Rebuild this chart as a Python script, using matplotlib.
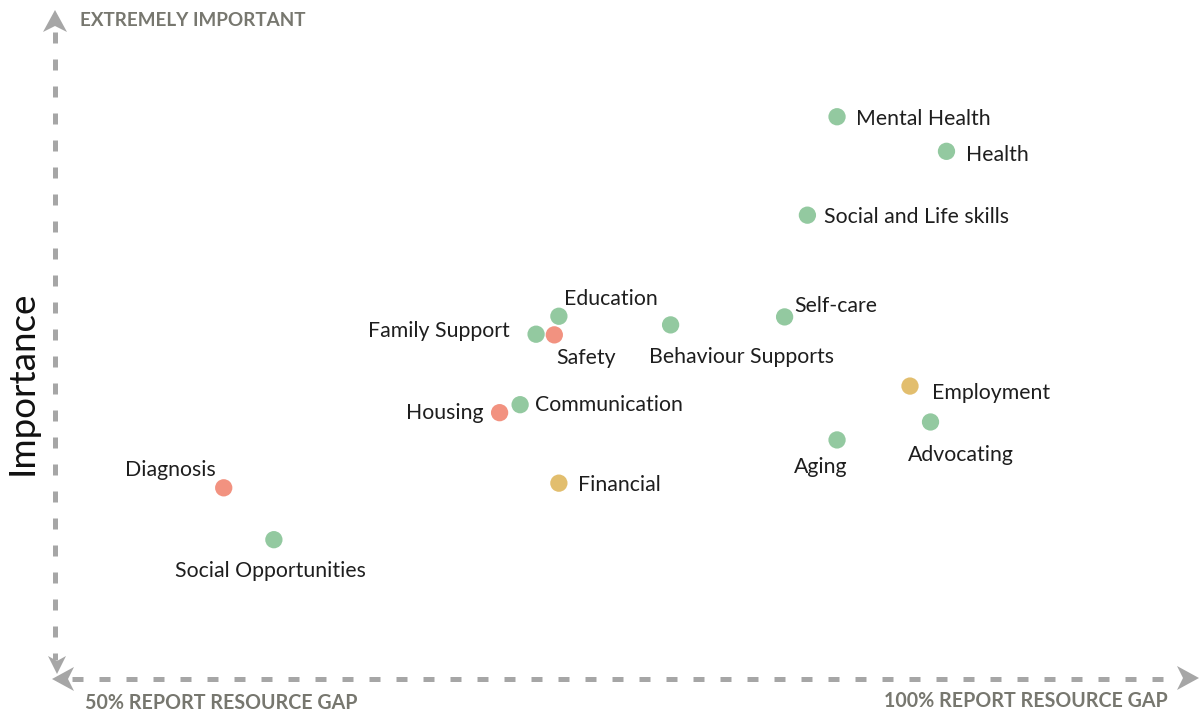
import matplotlib
matplotlib.use("Agg")
import matplotlib.pyplot as plt
from matplotlib.patches import Polygon
from matplotlib.lines import Line2D

# ---- data ----
labels = ["Mental Health", "Health", "Social and Life skills", "Education",
          "Family Support", "Safety", "Behaviour Supports", "Self-care",
          "Employment", "Advocating", "Aging", "Communication", "Housing",
          "Financial", "Diagnosis", "Social Opportunities"]
resource_gap = [84.3, 89.1, 83.0, 72.1, 71.1, 71.9, 77.0, 82.0,
                87.5, 88.4, 84.3, 70.4, 69.5, 72.1, 57.4, 59.6]
importance = [8.47, 7.95, 6.99, 5.47, 5.20, 5.19, 5.34, 5.46,
              4.42, 3.88, 3.61, 4.14, 4.02, 2.96, 2.89, 2.11]
groups = ["g", "g", "g", "g", "g", "r", "g", "g",
          "y", "g", "g", "g", "r", "y", "r", "g"]

group_colors = {"g": "#93C9A0", "r": "#F29280", "y": "#E2BE6E"}

# label placement (offset in pixels, horizontal alignment)
label_pos = {
    "Mental Health": (19, -2, "left"),
    "Health": (20, -4, "left"),
    "Social and Life skills": (17, -2, "left"),
    "Education": (5, 17, "left"),
    "Family Support": (-26, 3, "right"),
    "Safety": (2, -23, "left"),
    "Behaviour Supports": (-22, -32, "left"),
    "Self-care": (10, 11, "left"),
    "Employment": (22, -7, "left"),
    "Advocating": (30, -33, "center"),
    "Aging": (-16, -27, "center"),
    "Communication": (15, 0, "left"),
    "Housing": (-16, 0, "right"),
    "Financial": (19, -2, "left"),
    "Diagnosis": (-53, 18, "center"),
    "Social Opportunities": (-3, -31, "center"),
}

W, H = 1204, 713
fig = plt.figure(figsize=(W / 100, H / 100), dpi=100)
fig.patch.set_facecolor("white")

# axes: x 50 -> px 55, 100 -> px 1195 ; y 0 -> py 680, 10 -> py 15
x0, x1 = 55, 1195
y0, y1 = 680, 15
ax = fig.add_axes([x0 / W, (H - y0) / H, (x1 - x0) / W, (y0 - y1) / H])
ax.set_xlim(50, 100)
ax.set_ylim(0, 10)
ax.axis("off")

ax.scatter(resource_gap, importance, s=155,
           c=[group_colors[g] for g in groups], linewidths=0, zorder=3,
           clip_on=False)

label_font = ["Lato", "DejaVu Sans"]
for lab, xv, yv in zip(labels, resource_gap, importance):
    dx, dy, ha = label_pos[lab]
    ax.annotate(lab, (xv, yv), xytext=(dx, dy), textcoords="offset pixels",
                ha=ha, va="center", fontsize=15.3, color="#1e1e1e",
                family=label_font)

# ---- axis arrows (decorations, in figure pixel coords) ----
def fpt(px, py):
    return (px / W, (H - py) / H)

axis_col = "#A6A6A6"
dash = (2.2, 3.2)
lw = 3.6
# vertical
fig.add_artist(Line2D([55 / W, 55 / W], [(H - 32) / H, (H - 660) / H],
                      transform=fig.transFigure, color=axis_col, lw=lw,
                      linestyle=(0, dash), dash_capstyle="butt"))
# horizontal
fig.add_artist(Line2D([72 / W, 1178 / W], [(H - 679) / H, (H - 679) / H],
                      transform=fig.transFigure, color=axis_col, lw=lw,
                      linestyle=(0, dash), dash_capstyle="butt"))


def chevron(tip, direction, length=22, half=12, notch=6):
    tx, ty = tip
    dx, dy = direction
    px_, py_ = -dy, dx
    pts = [
        (tx, ty),
        (tx - dx * length + px_ * half, ty - dy * length + py_ * half),
        (tx - dx * (length - notch), ty - dy * (length - notch)),
        (tx - dx * length - px_ * half, ty - dy * length - py_ * half),
    ]
    return Polygon([fpt(*p) for p in pts], closed=True,
                   transform=fig.transFigure, facecolor=axis_col,
                   edgecolor="none")

fig.add_artist(chevron((55, 10), (0, -1)))          # up
fig.add_artist(chevron((57, 674), (0, 1), length=18, half=9, notch=5))  # down
fig.add_artist(chevron((52, 679), (-1, 0)))         # left
fig.add_artist(chevron((1199, 678), (1, 0)))        # right

cap_col = "#77776F"
cap_font = ["Lato", "DejaVu Sans"]
fig.text(80 / W, (H - 20) / H, "EXTREMELY IMPORTANT", ha="left", va="center",
         fontsize=13.6, fontweight="bold", color=cap_col, family=cap_font)
fig.text(85 / W, (H - 703) / H, "50% REPORT RESOURCE GAP", ha="left",
         va="center", fontsize=14.1, fontweight="bold", color=cap_col,
         family=cap_font)
fig.text(1168 / W, (H - 701) / H, "100% REPORT RESOURCE GAP", ha="right",
         va="center", fontsize=14.1, fontweight="bold", color=cap_col,
         family=cap_font)

fig.text(22 / W, (H - 383) / H, "Importance", rotation=90, ha="center",
         va="center", fontsize=26.5, fontweight="normal", color="#111111",
         family=["Lato", "DejaVu Sans"])

fig.savefig("out.png", dpi=100, facecolor="white")
